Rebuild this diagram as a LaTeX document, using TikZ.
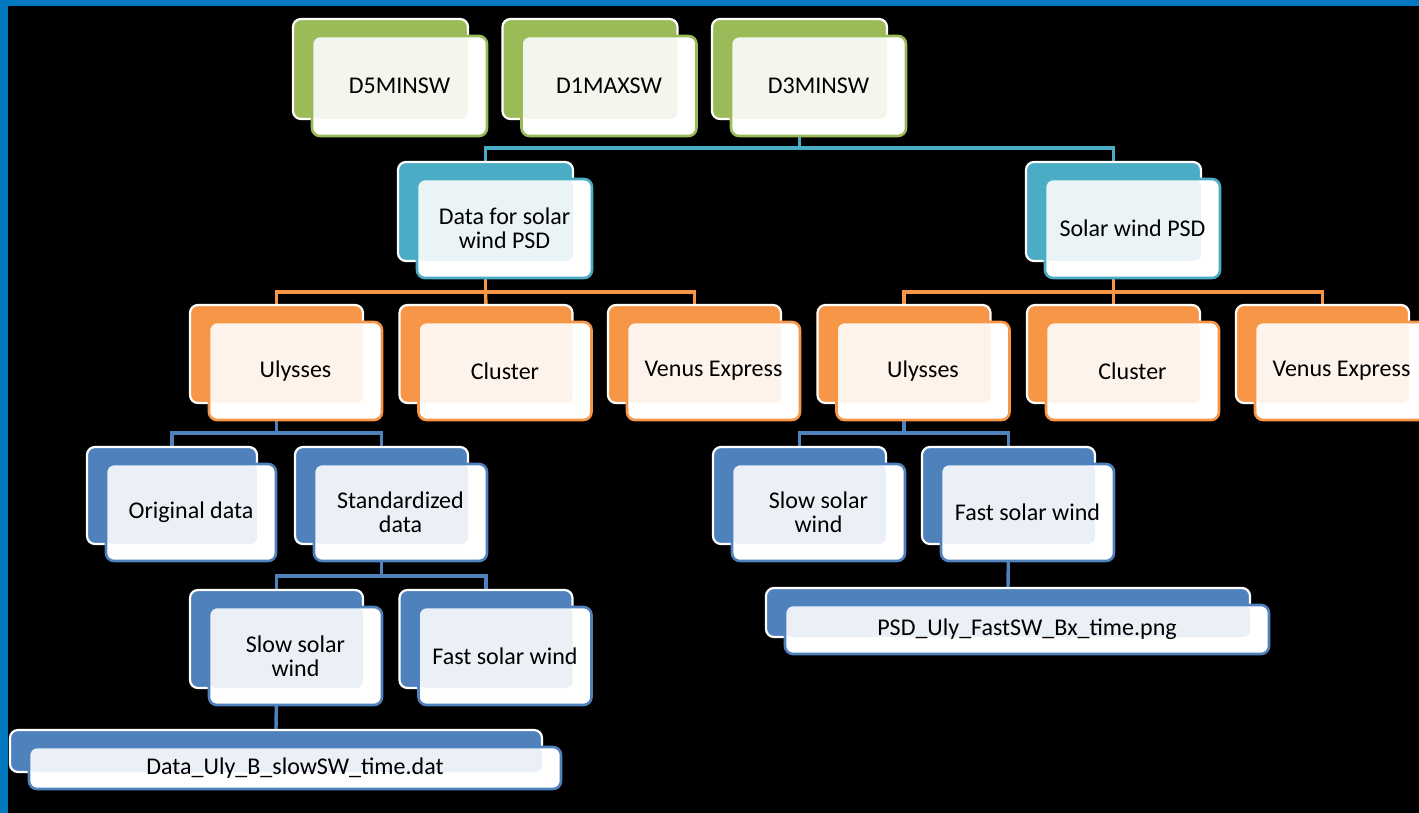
\documentclass[tikz,border=0pt]{standalone}
\usepackage{fontspec}
\setmainfont{Carlito}
\usetikzlibrary{calc}
\pgfdeclarelayer{bg}
\pgfdeclarelayer{frame}
\pgfsetlayers{frame,bg,main}
\definecolor{gr}{HTML}{9BBB59}
\definecolor{grt}{HTML}{F3F6EC}
\definecolor{te}{HTML}{4BACC6}
\definecolor{tet}{HTML}{EAF4F7}
\definecolor{or}{HTML}{F79646}
\definecolor{ort}{HTML}{FEF3EA}
\definecolor{bl}{HTML}{4F81BD}
\definecolor{blt}{HTML}{EBF0F7}
\definecolor{framecol}{HTML}{0079C1}
\newcommand\smbox[8]{%
  \node[backbox, fill=#2, minimum width=#6pt, minimum height=#7pt] (#1) at (#4,#5) {};
  \node[frontbox, minimum width=#6pt, minimum height=#7pt] (#1f) at ($(#1)+(19,17)$) {};
  \fill[#3, rounded corners=7pt] (#1f.north west) rectangle (#1.south east);
  \draw[#2, line width=2.6pt, rounded corners=8pt] (#1f.north west) rectangle (#1f.south east);
  \node[lbl] (#1t) at (#1f) {#8};
}
\begin{document}
\begin{tikzpicture}[x=1pt,y=-1pt,
  backbox/.style={draw=white, line width=2.2pt, rounded corners=8pt, inner sep=0pt, outer sep=0pt},
  frontbox/.style={fill=white, inner sep=0pt, outer sep=0pt, rounded corners=8pt},
  lbl/.style={font=\fontsize{24}{24}\selectfont, align=center, text=black},
  conn/.style={line width=3.4pt}]
\begin{pgfonlayer}{frame}
\fill[black] (0,0) rectangle (1419,813);
\fill[framecol] (0,0) rectangle (1419,6);
\fill[framecol] (0,0) rectangle (8,813);
\end{pgfonlayer}
\useasboundingbox (0,0) rectangle (1419,813);
% bus levels
\coordinate (bus1) at (0,148);
\coordinate (bus2) at (0,292);
\coordinate (bus3) at (0,433);
\coordinate (bus4) at (0,576);
% boxes
\smbox{d5}{gr}{grt}{380.5}{69}{175}{100}{D5MINSW}
\smbox{d1}{gr}{grt}{590}{69}{175}{100}{D1MAXSW}
\smbox{d3}{gr}{grt}{799.5}{69}{175}{100}{D3MINSW}
\smbox{dsw}{te}{tet}{485.5}{211.5}{175}{99}{Data for solar\\wind PSD}
\smbox{swp}{te}{tet}{1113.5}{211.5}{175}{99}{Solar wind PSD}
\smbox{u1}{or}{ort}{276.5}{354}{173}{98}{Ulysses}
\smbox{c1}{or}{ort}{486}{354}{173}{98}{Cluster}
\smbox{v1}{or}{ort}{694.5}{354}{173}{98}{Venus Express}
\smbox{u2}{or}{ort}{904}{354}{173}{98}{Ulysses}
\smbox{c2}{or}{ort}{1113.5}{354}{173}{98}{Cluster}
\smbox{v2}{or}{ort}{1322.5}{354}{173}{98}{Venus Express}
\smbox{od}{bl}{blt}{172}{495.5}{170}{97}{Original data}
\smbox{sd}{bl}{blt}{381.5}{495.5}{173}{97}{Standardized\\data}
\smbox{ssr}{bl}{blt}{799.5}{495.5}{173}{97}{Slow solar\\wind}
\smbox{fsr}{bl}{blt}{1008.5}{495.5}{173}{97}{Fast solar wind}
\smbox{ssl}{bl}{blt}{276.5}{639}{173}{98}{Slow solar\\wind}
\smbox{fsl}{bl}{blt}{486}{639}{173}{98}{Fast solar wind}
\smbox{fl}{bl}{blt}{276}{751}{532}{42}{Data\_Uly\_B\_slowSW\_time.dat}
\smbox{fr}{bl}{blt}{1008}{612.5}{484}{49}{PSD\_Uly\_FastSW\_Bx\_time.png}
% connectors behind the boxes
\begin{pgfonlayer}{bg}
\draw[te, conn] (d3.south) -- (d3.south |- bus1) -| (dsw.north);
\draw[te, conn] (d3.south |- bus1) -| (swp.north);
\draw[or, conn] (dsw.south) -- (dsw.south |- bus2) -| (u1.north);
\draw[or, conn] (dsw.south |- bus2) -- (c1.north);
\draw[or, conn] (dsw.south |- bus2) -| (v1.north);
\draw[or, conn] (swp.south) -- (swp.south |- bus2) -| (u2.north);
\draw[or, conn] (swp.south |- bus2) -- (c2.north);
\draw[or, conn] (swp.south |- bus2) -| (v2.north);
\draw[bl, conn] (u1.south) -- (u1.south |- bus3) -| (od.north);
\draw[bl, conn] (u1.south |- bus3) -| (sd.north);
\draw[bl, conn] (u2.south) -- (u2.south |- bus3) -| (ssr.north);
\draw[bl, conn] (u2.south |- bus3) -| (fsr.north);
\draw[bl, conn] (sd.south) -- (sd.south |- bus4) -| (ssl.north);
\draw[bl, conn] (sd.south |- bus4) -| (fsl.north);
\draw[bl, conn] (ssl.south) -- (fl.north);
\draw[bl, conn] (fsr.south) -- (fr.north);
\end{pgfonlayer}
\end{tikzpicture}
\end{document}
